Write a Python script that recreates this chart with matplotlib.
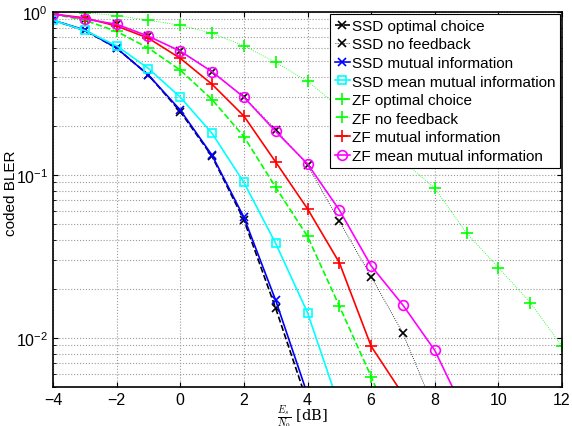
import numpy as np
import matplotlib
matplotlib.use('Agg')
import matplotlib.pyplot as plt

plt.rcParams['font.family'] = ['Liberation Sans', 'DejaVu Sans']
plt.rcParams['mathtext.fontset'] = 'cm'

# SNR 轴
snr = [-4, -3, -2, -1, 0, 1, 2, 3, 4, 5, 6, 7, 8, 9, 10, 11, 12]

# 各曲线 BLER
ssd_opt = [0.89, 0.77, 0.60, 0.41, 0.245, 0.13, 0.053, 0.0152, 0.0040]
ssd_nofb = [0.975, 0.905, 0.84, 0.71, 0.575, 0.43, 0.30, 0.19, 0.115, 0.052, 0.0238, 0.0107, 0.0036]
ssd_mi = [0.89, 0.775, 0.60, 0.41, 0.25, 0.132, 0.055, 0.017, 0.0045]
ssd_mmi = [0.89, 0.77, 0.62, 0.45, 0.30, 0.18, 0.09, 0.038, 0.0143, 0.0038]
zf_opt = [0.97, 0.89, 0.76, 0.60, 0.44, 0.29, 0.172, 0.084, 0.042, 0.0157, 0.0058, 0.0020]
zf_nofb = [1.0, 0.99, 0.95, 0.89, 0.83, 0.74, 0.62, 0.49, 0.376, 0.26, 0.18, 0.122, 0.083, 0.044, 0.027, 0.0165, 0.0089]
zf_mi = [0.97, 0.92, 0.82, 0.69, 0.52, 0.36, 0.23, 0.12, 0.062, 0.029, 0.0089, 0.0045]
zf_mmi = [0.976, 0.905, 0.84, 0.71, 0.575, 0.43, 0.30, 0.185, 0.117, 0.061, 0.0277, 0.0159, 0.0084, 0.0033]

series = [
    ('SSD optimal choice', ssd_opt, dict(color='k', ls='--', marker='x', lw=1.2, ms=6)),
    ('SSD no feedback', ssd_nofb, dict(color='k', ls=':', marker='x', lw=0.6, ms=6)),
    ('SSD mutual information', ssd_mi, dict(color='#0000ff', ls='-', marker='x', lw=1.2, ms=6)),
    ('SSD mean mutual information', ssd_mmi, dict(color='#00ffff', ls='-', marker='s', lw=1.2, ms=6, mfc='none')),
    ('ZF optimal choice', zf_opt, dict(color='#00ff00', ls='--', marker='+', lw=1.2, ms=8)),
    ('ZF no feedback', zf_nofb, dict(color='#00ff00', ls=':', marker='+', lw=0.6, ms=8)),
    ('ZF mutual information', zf_mi, dict(color='#ff0000', ls='-', marker='+', lw=1.2, ms=8)),
    ('ZF mean mutual information', zf_mmi, dict(color='#ff00ff', ls='-', marker='o', lw=1.2, ms=7, mfc='none')),
]

fig = plt.figure(figsize=(5.72, 4.27), dpi=100)
ax = fig.add_axes([0.0927, 0.0913, 0.8898, 0.8783])

for name, vals, st in series:
    ax.semilogy(snr[:len(vals)], vals, label=name, mew=1.2, **st)

ax.set_xlim(-4, 12)
ax.set_ylim(0.005, 1)
ax.set_xticks(range(-4, 13, 2))
ax.set_xticklabels(['\u22124', '\u22122', '0', '2', '4', '6', '8', '10', '12'])
ax.grid(True, which='major', ls=':', color='#999999', lw=0.8)
ax.grid(True, which='minor', axis='y', ls=':', color='#999999', lw=0.8)
ax.tick_params(which='both', direction='in', top=True, right=True, labelsize=11.5)
for s in ax.spines.values():
    s.set_linewidth(1.2)

ax.set_xlabel(r'$\frac{E_s}{N_0}$ [dB]', fontsize=10.5, family='serif')
ax.xaxis.set_label_coords(0.49, -0.042)
ax.set_ylabel('coded BLER', fontsize=11)
ax.yaxis.set_label_coords(-0.068, 0.52)

leg = ax.legend(loc='upper right', fontsize=11, fancybox=False, framealpha=1,
                edgecolor='k', handlelength=1.0, handletextpad=0.12,
                borderaxespad=0.15, labelspacing=0.3, borderpad=0.3)
leg.get_frame().set_linewidth(0.8)

plt.savefig('out.png', dpi=100)
